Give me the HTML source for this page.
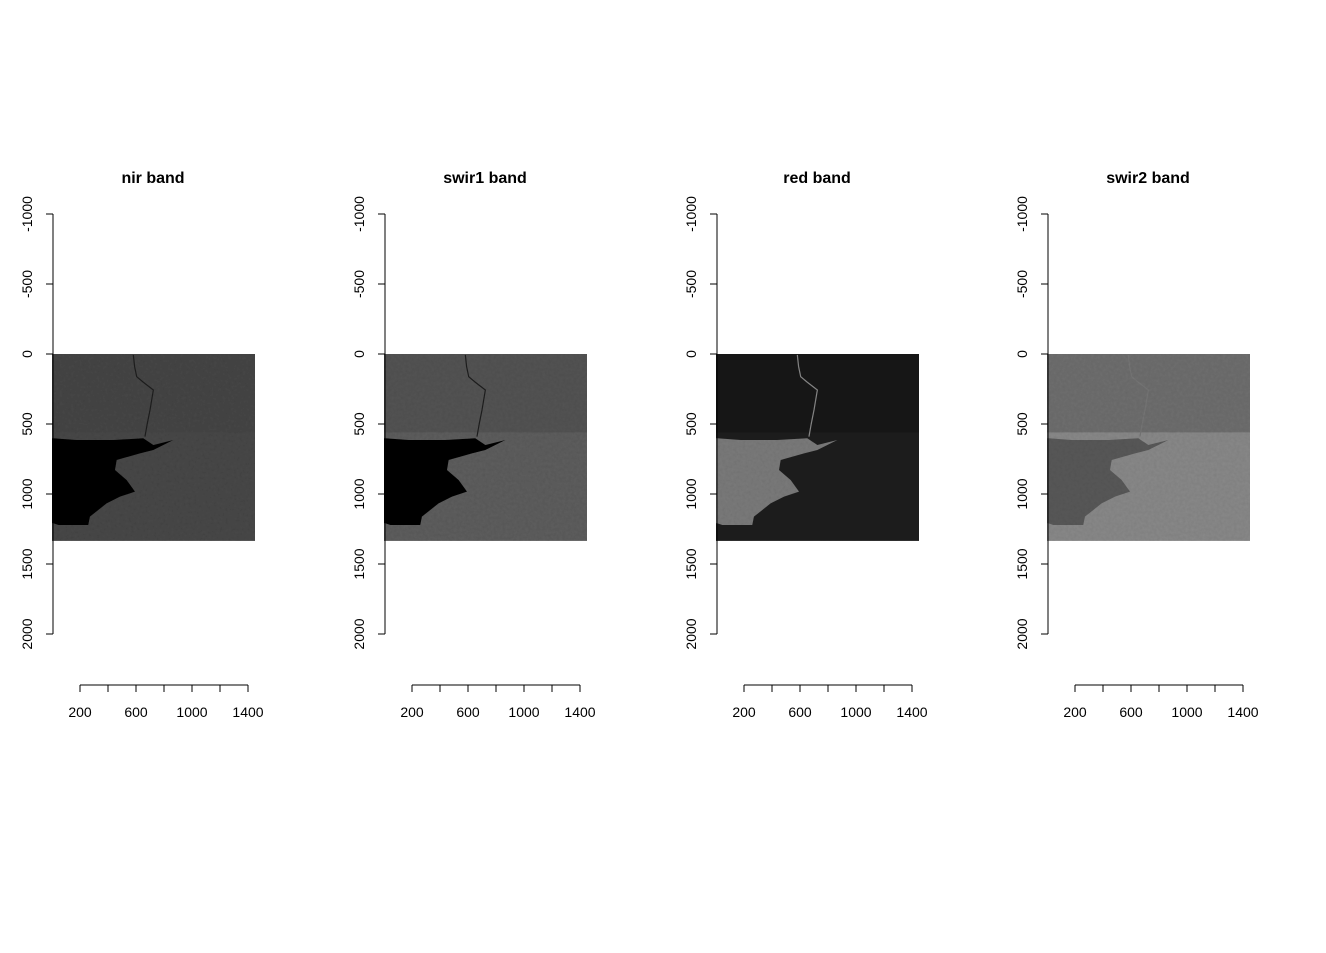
<!DOCTYPE html>
<html><head><meta charset="utf-8"><style>
html,body{margin:0;padding:0;background:#fff;}
text{font-family:"Liberation Sans",Arial,sans-serif;}
</style></head><body>
<svg id="chart" width="1326" height="948" xmlns="http://www.w3.org/2000/svg">
<defs>
<filter id="grain" x="0" y="0" width="100%" height="100%">
<feTurbulence type="fractalNoise" baseFrequency="0.35" numOctaves="2" seed="3" result="n"/>
<feColorMatrix type="matrix" values="0 0 0 0 0  0 0 0 0 0  0 0 0 0 0  0 0 0 0.18 0" in="n" result="m"/>
<feComposite in="m" in2="SourceGraphic" operator="in" result="g"/>
<feMerge><feMergeNode in="SourceGraphic"/><feMergeNode in="g"/></feMerge>
</filter>
</defs>
</svg>
<script>
const bandNames = ["nir band","swir1 band","red band","swir2 band"];
const yTicks = [-1000,-500,0,500,1000,1500,2000];
const xTicks = [200,400,600,800,1000,1200,1400];
const xLabels = [200,600,1000,1400];
const imgExtentX = [0,1450];
const imgExtentY = [0,1335];
const lakeU = [9,176,438,652,724,867,724,629,462,450,533,593,486,390,271,259,45,9,0,0];
const lakeV = [602,614,614,602,650,614,686,710,757,829,900,983,1019,1067,1162,1221,1221,1209,1209,602];
const riverU = [581,590,605,650,724,700,680,664];
const riverV = [7,90,162,200,257,400,500,590];
const bgColor = ["#4a4a4a","#5f5f5f","#222222","#8a8a8a"];
const topColor = ["#474747","#555555","#1a1a1a","#707070"];
const lakeColor = ["#0f0f0f","#0f0f0f","#7b7b7b","#5a5a5a"];
const riverColor = ["#222","#222","#8a8a8a","#777"];

const panelX0 = [52,384,716,1047];
const S = 0.14, Y0 = 354;
const svg = document.getElementById('chart');
const NS = "http://www.w3.org/2000/svg";
function el(t,a,p){const e=document.createElementNS(NS,t);for(const k in a)e.setAttribute(k,a[k]);(p||svg).appendChild(e);return e;}

panelX0.forEach((x0,i)=>{
  const sx=u=>x0+u*S, sy=v=>Y0+v*S;
  const g=el('g',{});
  
  
  const t=el('text',{x:x0+101,y:183,'text-anchor':'middle','font-size':16,'font-weight':'bold'},g);
  t.textContent=bandNames[i];
  
  
  const img=el('g',{filter:'url(#grain)'},g);
  
  
  el('rect',{x:sx(imgExtentX[0]),y:sy(imgExtentY[0]),width:(imgExtentX[1]-imgExtentX[0])*S,height:(imgExtentY[1]-imgExtentY[0])*S,fill:bgColor[i]},img);
  el('rect',{x:sx(imgExtentX[0]),y:sy(imgExtentY[0]),width:(imgExtentX[1]-imgExtentX[0])*S,height:560*S,fill:topColor[i]},img);
  const lake=el('polygon',{points:lakeU.map((u,k)=>sx(u)+','+sy(lakeV[k])).join(' '),fill:lakeColor[i]},img);
  
  
  const river=el('polyline',{points:riverU.map((u,k)=>sx(u)+','+sy(riverV[k])).join(' '),fill:'none',stroke:riverColor[i],'stroke-width':1.2},img);
  
  
  const ya=el('g',{},g);
  
  
  el('line',{x1:x0+1,x2:x0+1,y1:sy(yTicks[0]),y2:sy(yTicks[yTicks.length-1]),stroke:'#000'},ya);
  yTicks.forEach(v=>{
    el('line',{x1:x0+1,x2:x0-6,y1:sy(v),y2:sy(v),stroke:'#000'},ya);
    const lt=el('text',{x:0,y:0,'text-anchor':'middle','font-size':14,transform:`translate(${x0-20},${sy(v)}) rotate(-90)`},ya);
    lt.textContent=v;
    
    
  });
  const xa=el('g',{},g);
  
  
  el('line',{x1:sx(xTicks[0]),x2:sx(xTicks[xTicks.length-1]),y1:685,y2:685,stroke:'#000'},xa);
  xTicks.forEach(v=>el('line',{x1:sx(v),x2:sx(v),y1:685,y2:692,stroke:'#000'},xa));
  xLabels.forEach(v=>{
    const lt=el('text',{x:sx(v),y:717,'text-anchor':'middle','font-size':14},xa);
    lt.textContent=v;
    
    
  });
});
</script>
</body></html>
